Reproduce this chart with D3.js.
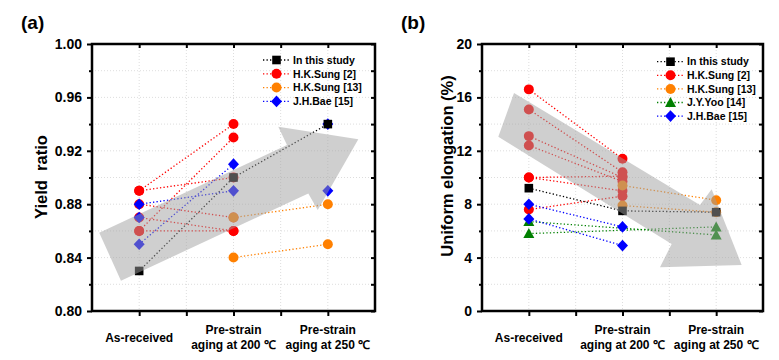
<!DOCTYPE html>
<html><head><meta charset="utf-8">
<script src="https://cdn.jsdelivr.net/npm/d3@7"></script>
<style>
body{margin:0;background:#fff;}
text{font-family:"Liberation Sans",Arial,sans-serif;font-weight:bold;}
</style></head>
<body><svg id="c" width="779" height="360"></svg>
<script>
// ---------- data ----------
const categories = ["As-received", "Pre-strain\naging at 200 ℃", "Pre-strain\naging at 250 ℃"];
const yrTicks = [0.80, 0.84, 0.88, 0.92, 0.96, 1.00];
const ueTicks = [0, 4, 8, 12, 16, 20];

// Yield ratio (panel a) : each inner array = one connected set, value per category (null = none)
const yrStudy  = [[0.83, 0.90, 0.94]];
const yrSung2  = [[0.89, 0.94, null], [0.89, 0.90, null], [0.88, 0.87, null], [0.87, 0.86, null], [0.86, 0.86, null], [0.86, 0.93, null]];
const yrSung13 = [[null, 0.87, 0.88], [null, 0.84, 0.85]];
const yrBae15  = [[0.88, 0.89, null], [0.85, 0.91, null], [0.87, null, null], [null, null, 0.94], [null, null, 0.89]];

// Uniform elongation (%) (panel b)
const ueStudy  = [[9.2, 7.5, 7.4]];
const ueSung2  = [[16.6, 11.4, null], [15.1, 10.4, null], [13.1, 10.0, null], [12.4, 9.7, null], [10.0, 10.1, null], [10.0, 9.0, null], [7.6, 8.6, null]];
const ueSung13 = [[null, 9.4, 8.3], [null, 7.9, 7.4]];
const ueYoo14  = [[6.7, null, 5.7], [5.8, null, 6.3]];
const ueBae15  = [[8.0, 6.3, null], [6.9, 4.9, null]];

// trend arrows (annotation outline, in data units: [category position, value])
const arrowA = [[0.577,0.8587],[2.567,0.9243],[2.475,0.938],[3.323,0.9286],[2.893,0.8757],[2.793,0.888],[0.807,0.8227]];
const arrowB = [[0.674,13.06],[0.842,16.33],[2.827,7.94],[2.952,9.12],[3.272,3.45],[2.400,3.27],[2.525,5.02]];

// ---------- styles ----------
const seriesStyle = {
  study: {name:"In this study", color:"#000000", shape:"square"},
  sung2: {name:"H.K.Sung [2]", color:"#ff0000", shape:"circle"},
  sung13:{name:"H.K.Sung [13]", color:"#ff8000", shape:"circle"},
  yoo14: {name:"J.Y.Yoo [14]", color:"#008000", shape:"triangle"},
  bae15: {name:"J.H.Bae [15]", color:"#0000ff", shape:"diamond"}
};

const svg = d3.select("#c");

function markerPath(shape){
  if(shape==="circle") return d3.symbol(d3.symbolCircle, 78)();
  if(shape==="square") return "M-4.3,-4.3H4.3V4.3H-4.3Z";
  if(shape==="diamond") return "M0,-5.8L5.5,0L0,5.8L-5.5,0Z";
  if(shape==="triangle") return "M0,-5.5L5.5,4.5H-5.5Z";
}

function panel(opt){
  const g = svg.append("g");
  const x = d3.scaleLinear().domain([0.5,3.5]).range([opt.left, opt.right]);
  const y = d3.scaleLinear().domain(opt.ydom).range([311, 44]);
  const minorY = d3.range(opt.ydom[0], opt.ydom[1] + opt.ystep/4, opt.ystep/2);
  const minorX = [1, 1.5, 2, 2.5, 3];

  // grid
  g.append("g").selectAll("line").data(minorY.slice(1,-1)).join("line")
    .attr("x1", opt.left).attr("x2", opt.right).attr("y1", d=>y(d)).attr("y2", d=>y(d))
    .attr("stroke","#d4d4d4").attr("stroke-width",0.8).attr("stroke-dasharray","1,2");
  g.append("g").selectAll("line").data(minorX).join("line")
    .attr("y1", 44).attr("y2", 311).attr("x1", d=>x(d)).attr("x2", d=>x(d))
    .attr("stroke","#d4d4d4").attr("stroke-width",0.8).attr("stroke-dasharray","1,2");

  // series lines & markers
  const order = opt.order;
  order.forEach(key=>{
    const st = seriesStyle[key];
    const sets = opt.series[key];
    sets.forEach(vals=>{
      const pts = vals.map((v,i)=>[i+1, v]).filter(p=>p[1]!==null);
      if(pts.length>1){
        g.append("path").attr("d", d3.line().x(p=>x(p[0])).y(p=>y(p[1]))(pts))
          .attr("fill","none").attr("stroke", st.color).attr("stroke-width",1.3)
          .attr("stroke-dasharray","1.3,2.2");
      }
    });
  });
  order.forEach(key=>{
    const st = seriesStyle[key];
    opt.series[key].forEach(vals=>{
      vals.forEach((v,i)=>{
        if(v===null) return;
        g.append("path").attr("d", markerPath(st.shape))
          .attr("transform", `translate(${x(i+1)},${y(v)})`).attr("fill", st.color);
      });
    });
  });

  // arrow (semi-transparent, on top)
  g.append("path").attr("d", d3.line().x(p=>x(p[0])).y(p=>y(p[1])).curve(d3.curveLinearClosed)(opt.arrow))
    .attr("fill","rgb(160,160,160)").attr("fill-opacity",0.5);

  // axes
  const fmt = opt.fmt;
  const left = g.append("g").attr("transform",`translate(${opt.left},0)`)
    .call(d3.axisLeft(y).tickValues(opt.ticks).tickSize(5).tickPadding(5).tickFormat(fmt));
  const leftMinor = g.append("g").attr("transform",`translate(${opt.left},0)`)
    .call(d3.axisLeft(y).tickValues(minorY.filter((d,i)=>i%2===1)).tickSize(3).tickFormat(""));
  const right = g.append("g").attr("transform",`translate(${opt.right},0)`)
    .call(d3.axisLeft(y).tickValues(minorY).tickSize(4).tickFormat(""));
  const bottom = g.append("g").attr("transform",`translate(0,311)`)
    .call(d3.axisBottom(x).tickValues(minorX).tickSize(5).tickFormat(""));
  const top = g.append("g").attr("transform",`translate(0,44)`)
    .call(d3.axisBottom(x).tickValues(minorX).tickSize(4).tickFormat(""));
  [left,leftMinor,right,bottom,top].forEach(a=>{
    a.select(".domain").remove();
    a.selectAll(".tick line").attr("stroke","#000").attr("stroke-width",2);
  });
  left.selectAll(".tick text").attr("font-size",14).attr("fill","#000")
    .style("font-family",'"Liberation Sans",Arial,sans-serif').style("font-weight","bold");

  g.append("rect").attr("x",opt.left).attr("y",44).attr("width",opt.right-opt.left).attr("height",267)
    .attr("fill","none").attr("stroke","#000").attr("stroke-width",2.5);

  // category labels
  categories.forEach((c,i)=>{
    const lines = c.split("\n");
    const t = g.append("text").attr("text-anchor","middle").attr("font-size",12).attr("fill","#000");
    const y0 = lines.length===1 ? 342 : 334;
    lines.forEach((ln,j)=>{
      t.append("tspan").attr("x", x(i+1)).attr("y", y0 + j*15).text(ln);
    });
  });

  // y title
  g.append("text").attr("transform",`translate(${opt.titleX},${opt.titleY}) rotate(-90)`)
    .attr("text-anchor","middle").attr("font-size",16.5).attr("fill","#000")
    .style("white-space","pre").text(opt.title);

  // panel letter
  g.append("text").attr("x",opt.letterX).attr("y",29).attr("font-size",19).attr("fill","#000").text(opt.letter);

  // legend
  opt.legendKeys.forEach((key,i)=>{
    const st = seriesStyle[key];
    const ly = opt.legendY + i*opt.legendStep;
    g.append("line").attr("x1",opt.legendX).attr("x2",opt.legendX+27).attr("y1",ly).attr("y2",ly)
      .attr("stroke",st.color).attr("stroke-width",1.3).attr("stroke-dasharray","1.3,2.2");
    g.append("path").attr("d",markerPath(st.shape)).attr("transform",`translate(${opt.legendX+13.5},${ly})`).attr("fill",st.color);
    g.append("text").attr("x",opt.legendX+30).attr("y",ly).attr("dy","0.36em")
      .attr("font-size",10.5).attr("fill","#000").text(st.name);
  });
}

panel({
  left:92, right:375, ydom:[0.8,1.0], ystep:0.04, ticks:yrTicks, fmt:d3.format(".2f"),
  series:{study:yrStudy, sung2:yrSung2, sung13:yrSung13, bae15:yrBae15},
  order:["sung2","sung13","bae15","study"],
  legendKeys:["study","sung2","sung13","bae15"], legendX:263, legendY:60, legendStep:13.8,
  arrow:arrowA, title:"Yield  ratio", titleX:47, titleY:177, letter:"(a)", letterX:21
});
panel({
  left:482, right:763, ydom:[0,20], ystep:4, ticks:ueTicks, fmt:d3.format("d"),
  series:{study:ueStudy, sung2:ueSung2, sung13:ueSung13, yoo14:ueYoo14, bae15:ueBae15},
  order:["sung2","sung13","yoo14","bae15","study"],
  legendKeys:["study","sung2","sung13","yoo14","bae15"], legendX:657, legendY:61.7, legendStep:13.6,
  arrow:arrowB, title:"Uniform elongation (%)", titleX:453, titleY:166, letter:"(b)", letterX:401
});
</script></body></html>
